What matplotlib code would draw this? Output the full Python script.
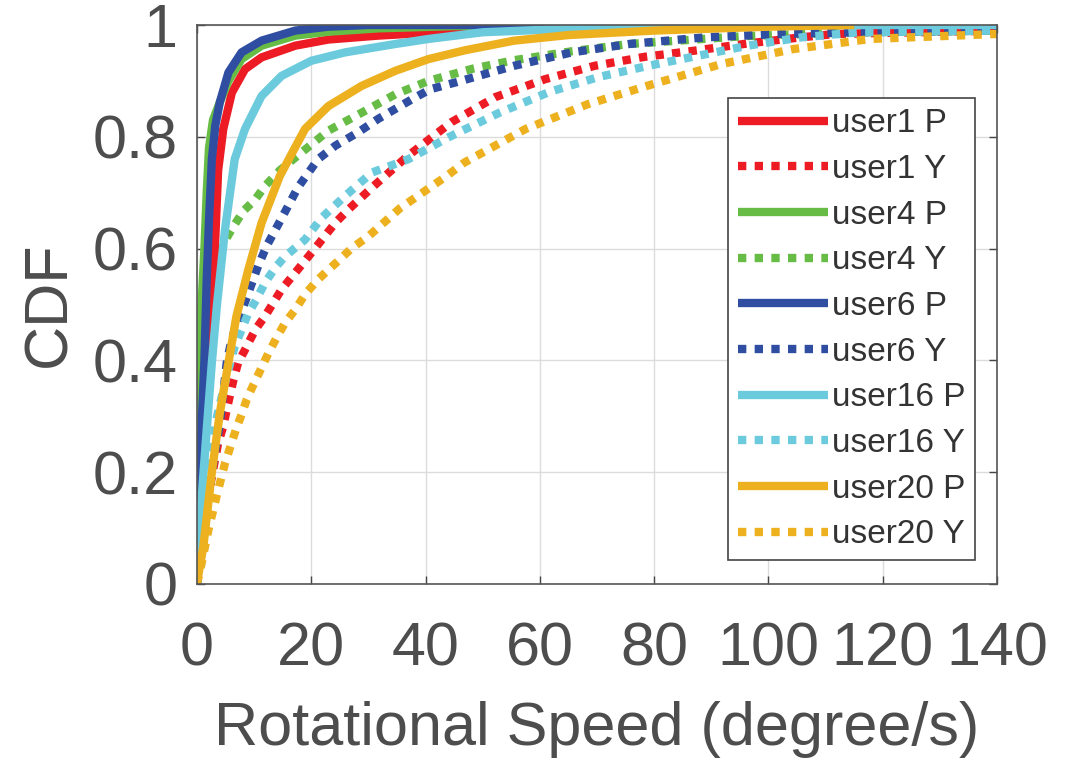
import numpy as np
import matplotlib
matplotlib.use("Agg")
import matplotlib.pyplot as plt

plt.rcParams['font.family'] = ['Liberation Sans', 'DejaVu Sans']

# CDF curves: x = rotational speed (degree/s), y = CDF
u1p_x = [0, 0.4, 1.2, 1.9, 2.9, 3.7, 4.6, 6.1, 8.4, 11.3, 17.2, 23, 31.7, 40.5, 50, 60]
u1p_y = [0, 0.12, 0.276, 0.4, 0.545, 0.74, 0.814, 0.879, 0.921, 0.942, 0.963, 0.974, 0.981, 0.986, 0.993, 1.0]

u1y_x = [0, 0.8, 1.7, 2.6, 3.7, 4.6, 5.2, 6.4, 7.2, 8.4, 10.2, 11.9, 14.8, 17.2, 20.7, 24.2,
         26.5, 30.6, 36.8, 44.5, 52.2, 60.9, 69.6, 78.3, 87, 96.4, 105.8, 111.8, 140]
u1y_y = [0, 0.07, 0.14, 0.192, 0.252, 0.282, 0.312, 0.366, 0.396, 0.419, 0.455, 0.479, 0.527, 0.557, 0.601, 0.646,
         0.67, 0.709, 0.765, 0.826, 0.871, 0.903, 0.927, 0.943, 0.954, 0.967, 0.978, 0.984, 0.99]

u4p_x = [0, 0.2, 0.5, 0.8, 1.3, 1.7, 2.1, 2.8, 4, 5.5, 7.8, 11.3, 17.2, 23, 31.7, 45, 77]
u4p_y = [0, 0.2, 0.35, 0.5, 0.6, 0.7, 0.78, 0.83, 0.862, 0.9, 0.939, 0.963, 0.981, 0.988, 0.994, 0.998, 1.0]

u4y_x = [0, 0.3, 0.8, 1.5, 2.5, 4, 4.9, 6.4, 8.1, 10.2, 11.9, 14.5, 18.3, 23, 28.8, 34.7,
         40.5, 48.3, 55.5, 65.6, 75.6, 95.7, 115.8, 140]
u4y_y = [0, 0.2, 0.4, 0.5, 0.55, 0.587, 0.614, 0.64, 0.667, 0.688, 0.712, 0.74, 0.772, 0.811, 0.843, 0.876,
         0.9, 0.922, 0.937, 0.953, 0.966, 0.98, 0.987, 0.99]

u6p_x = [0, 0.3, 0.8, 1.3, 1.7, 2.1, 2.6, 3.2, 4, 5.5, 7.8, 11.3, 17.2, 23, 30, 64]
u6p_y = [0, 0.15, 0.28, 0.4, 0.545, 0.65, 0.76, 0.82, 0.862, 0.915, 0.951, 0.972, 0.99, 0.997, 1.0, 1.0]

u6y_x = [0, 0.6, 1.5, 2.6, 4, 4.6, 5.2, 5.8, 6.6, 7.8, 9, 10.7, 12.2, 15.1, 17.7, 21.2, 24.2,
         28.2, 31.7, 37.6, 40.8, 45.5, 55.5, 65.6, 75.6, 89, 102.4, 115.8, 140]
u6y_y = [0, 0.05, 0.12, 0.2, 0.288, 0.342, 0.396, 0.425, 0.455, 0.488, 0.521, 0.569, 0.605, 0.66, 0.71, 0.76, 0.784,
         0.808, 0.832, 0.867, 0.885, 0.898, 0.927, 0.951, 0.966, 0.978, 0.984, 0.987, 0.99]

u16p_x = [0, 0.5, 1.0, 1.7, 2.6, 3.5, 4.9, 6.6, 8.4, 11.3, 14.8, 20, 25.9, 34.7, 40.5, 50, 62, 80, 100, 140]
u16p_y = [0, 0.1, 0.18, 0.276, 0.396, 0.5, 0.634, 0.76, 0.814, 0.873, 0.909, 0.936, 0.951, 0.966, 0.975, 0.987,
          0.992, 0.997, 1.0, 1.0]

u16y_x = [0, 0.8, 2, 3.5, 5.2, 6.6, 7.8, 9, 10.4, 11.9, 13.7, 15.4, 18.9, 21.8, 25.9, 30.6, 37,
          44.2, 52.9, 61.6, 70.3, 79, 87.7, 96.4, 105.8, 115.8, 140]
u16y_y = [0, 0.08, 0.2, 0.3, 0.372, 0.425, 0.455, 0.485, 0.509, 0.539, 0.566, 0.586, 0.616, 0.655, 0.694, 0.736, 0.76,
          0.8, 0.843, 0.88, 0.907, 0.927, 0.945, 0.963, 0.978, 0.987, 0.99]

u20p_x = [0, 0.3, 1.1, 2.6, 4, 5.5, 6.9, 9, 11.3, 14.5, 18.9, 23, 28.8, 34.7, 40.5, 47, 55.5, 65, 80, 100, 115]
u20p_y = [0, 0.02, 0.066, 0.2, 0.306, 0.396, 0.479, 0.563, 0.646, 0.73, 0.814, 0.855, 0.891, 0.918, 0.939, 0.955,
          0.972, 0.982, 0.99, 0.997, 1.0]

u20y_x = [0, 0.8, 2, 3.4, 4.9, 6.9, 7.8, 8.7, 9.9, 11.3, 12.5, 13.9, 15.4, 17.2, 18.9, 21.2, 24.7, 27.1,
          30, 35.5, 43.7, 46.8, 57.5, 68.3, 79.7, 91.7, 104.4, 117.8, 140]
u20y_y = [0, 0.037, 0.097, 0.156, 0.216, 0.279, 0.303, 0.33, 0.357, 0.387, 0.413, 0.44, 0.467, 0.491, 0.518, 0.545,
          0.578, 0.601, 0.622, 0.672, 0.73, 0.754, 0.814, 0.858, 0.894, 0.93, 0.957, 0.975, 0.984]

labels = ['user1 P', 'user1 Y', 'user4 P', 'user4 Y', 'user6 P', 'user6 Y',
          'user16 P', 'user16 Y', 'user20 P', 'user20 Y']

red = '#ED1C24'
green = '#67BC45'
blue = '#2F4EA2'
cyan = '#6BCBDD'
orange = '#EDB120'

series = [
    (u1p_x, u1p_y, red, '-'),
    (u1y_x, u1y_y, red, ':'),
    (u4p_x, u4p_y, green, '-'),
    (u4y_x, u4y_y, green, ':'),
    (u6p_x, u6p_y, blue, '-'),
    (u6y_x, u6y_y, blue, ':'),
    (u16p_x, u16p_y, cyan, '-'),
    (u16y_x, u16y_y, cyan, ':'),
    (u20p_x, u20p_y, orange, '-'),
    (u20y_x, u20y_y, orange, ':'),
]

text_col = '#4d4d4d'

fig = plt.figure(figsize=(10.66, 7.62), dpi=100)
ax = fig.add_axes([0.1848, 0.2336, 0.7505, 0.7336])

# dotted curves first, solid ones on top (as in the figure)
lines = {}
for order in [':', '-']:
    for (x, y, c, ls), lab in zip(series, labels):
        if ls != order:
            continue
        if ls == ':':
            ln, = ax.plot(x, y, color=c, lw=6, linestyle=(0, (1, 1)),
                          dash_capstyle='butt', label=lab)
        else:
            ln, = ax.plot(x, y, color=c, lw=6, solid_capstyle='butt',
                          solid_joinstyle='round', label=lab)
        lines[lab] = ln

ax.set_xlim(0, 140)
ax.set_ylim(0, 1)
ax.set_xticks(np.arange(0, 141, 20))
ax.set_yticks([0, 0.2, 0.4, 0.6, 0.8, 1])
ax.set_yticklabels(['0', '0.2', '0.4', '0.6', '0.8', '1'])
ax.grid(True, color='#dcdcdc', lw=1)
ax.set_axisbelow(True)

ax.tick_params(direction='in', length=6, width=1, color='#444444',
               labelsize=44, labelcolor=text_col, top=True, right=True)
ax.tick_params(axis='x', pad=27)
ax.tick_params(axis='y', pad=14)
for sp in ax.spines.values():
    sp.set_color('#555555')
    sp.set_linewidth(1.2)

ax.set_xlabel('Rotational Speed (degree/s)', fontsize=44, color=text_col, labelpad=16)
ax.set_ylabel('CDF', fontsize=44, color=text_col, labelpad=10)

leg = ax.legend([lines[l] for l in labels], labels, loc='upper right',
                bbox_to_anchor=(0.9725, 0.869), borderaxespad=0,
                fontsize=24, handlelength=2.7, handletextpad=0.1,
                labelspacing=0.44, borderpad=0.3, fancybox=False,
                framealpha=1, edgecolor='#444444')
leg.get_frame().set_linewidth(1.2)
for t in leg.get_texts():
    t.set_color('#333333')

fig.savefig('out.png', dpi=100)
